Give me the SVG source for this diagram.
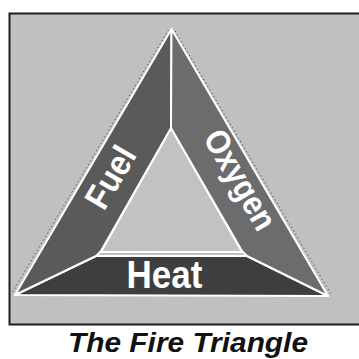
<svg xmlns="http://www.w3.org/2000/svg" width="359" height="359" viewBox="0 0 359 359">
  <style>
    .band { stroke: #ffffff; stroke-width: 2; stroke-linejoin: round; }
    .dots { fill: none; stroke: #2a2a2a; stroke-width: 1; stroke-dasharray: 1 3; }
    .lbl { font-family: "Liberation Sans", Arial, sans-serif; font-weight: bold; fill: #ffffff; }
  </style>
  <rect x="0" y="0" width="359" height="359" fill="#ffffff"/>
  <g id="frame">
    <rect x="9.5" y="13.5" width="360" height="311" fill="#c0c0c0" stroke="#1e1e1e" stroke-width="2"/>
  </g>
  <g id="connectors">
    <line class="dots" x1="12.5" y1="292" x2="169" y2="29"/>
    <line class="dots" x1="175" y1="31" x2="331" y2="294"/>
    <line class="dots" x1="168.5" y1="130" x2="99" y2="249"/>
    <line class="dots" x1="173.5" y1="130" x2="244" y2="249"/>
  </g>
  <g id="inner">
    <polygon points="171,128 101,252 242,252" fill="#c2c2c2" stroke="#ffffff" stroke-width="2"/>
  </g>
  <g id="heat">
    <polygon class="band" points="15,295 96,256 247,256 328,296" fill="#3e3e3e"/>
    <text class="lbl" x="164.5" y="288" font-size="39" text-anchor="middle" textLength="76" lengthAdjust="spacingAndGlyphs">Heat</text>
  </g>
  <g id="fuel">
    <polygon class="band" points="171.5,29 171,128 101,251 96,256 15,295" fill="#5a5a5a"/>
    <text class="lbl" transform="translate(110,177) rotate(-59.6)" x="0" y="12.5" font-size="35" text-anchor="middle" textLength="66" lengthAdjust="spacingAndGlyphs">Fuel</text>
  </g>
  <g id="oxygen">
    <polygon class="band" points="171.5,29 328,296 247,256 242,251 171,128" fill="#6c6c6c"/>
    <text class="lbl" transform="translate(238,181) rotate(59.6)" x="0" y="9" font-size="34" text-anchor="middle" textLength="110" lengthAdjust="spacingAndGlyphs">Oxygen</text>
  </g>
  <g id="title">
    <text x="188" y="352" font-family="'Liberation Sans', Arial, sans-serif" font-weight="bold" font-style="italic" font-size="28" fill="#111111" text-anchor="middle" textLength="240" lengthAdjust="spacingAndGlyphs">The Fire Triangle</text>
  </g>
</svg>
